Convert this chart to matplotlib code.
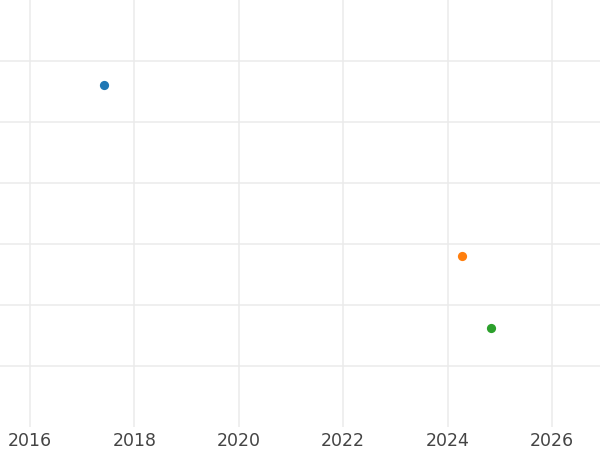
import matplotlib.pyplot as plt
from matplotlib.ticker import MultipleLocator

# three dated points, one per series
series = ['A', 'B', 'C']
years = [2017.42, 2024.28, 2024.83]
values = [5.61, 2.80, 1.61]
colors = ['#1f77b4', '#ff7f0e', '#2ca02c']
y_grid = [1, 2, 3, 4, 5, 6]

fig = plt.figure(figsize=(6, 4.5), dpi=100)
ax = fig.add_axes([0, 0.052, 1, 0.948])

for name, x, y, c in zip(series, years, values, colors):
    ax.scatter([x], [y], s=44, color=c, zorder=3, label=name, linewidths=0)

ax.set_xlim(2015.425, 2026.92)
ax.set_ylim(0, 7)
ax.xaxis.set_major_locator(MultipleLocator(2))
ax.set_yticks(y_grid)
ax.grid(True, color='#ebebeb', linewidth=1.1)
ax.set_axisbelow(True)
for s in ax.spines.values():
    s.set_visible(False)
ax.tick_params(axis='both', length=0, labelsize=12.5, labelcolor='#444444', pad=4)
ax.tick_params(axis='y', labelleft=False)

fig.savefig('out.png', dpi=100)
